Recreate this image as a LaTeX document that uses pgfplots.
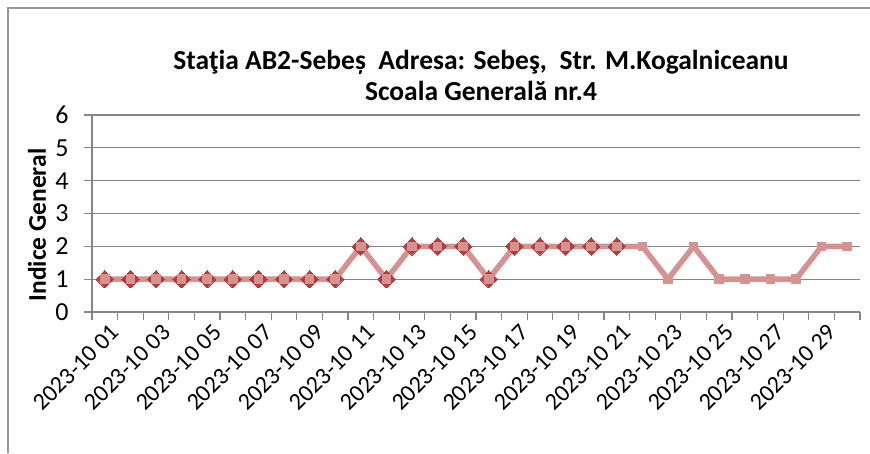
\documentclass[border=0pt]{standalone}
\usepackage{fontspec}
\setmainfont{Carlito}
\usepackage{pgfplots}
\pgfplotsset{compat=1.18}
\definecolor{gridc}{RGB}{134,134,134}
\definecolor{framec}{RGB}{150,150,150}
\definecolor{pinkl}{RGB}{214,146,144}
\definecolor{darkr}{RGB}{180,60,58}
\begin{document}
\begin{tikzpicture}[x=1pt,y=1pt]
\useasboundingbox (0,0) rectangle (870,453);
\draw[framec, line width=1.5pt] (8,0) -- (8,445) -- (870,445);
\node[font=\bfseries\fontsize{27.5}{31}\selectfont, align=center] at (481,378) {Staţia AB2-Sebeș\ \ Adresa: Sebeş,\ \ Str. M.Kogalniceanu\\Scoala Generală nr.4};
\node[rotate=90, font=\bfseries\fontsize{25.5}{30}\selectfont] at (37,228) {Indice General};
\begin{axis}[at={(92pt,141pt)}, anchor=south west, scale only axis,
  width=768pt, height=197pt,
  xmin=0.5, xmax=30.5, ymin=0, ymax=6,
  ytick={0,...,6},
  ymajorgrids, grid style={gridc, line width=1.3pt},
  axis x line*=bottom, axis y line*=left,
  axis line style={gridc, line width=1.3pt},
  tick style={gridc, line width=1.3pt},
  tick align=outside, major tick length=8pt,
  xtick={0.5,1.5,...,30.5}, xticklabels={},
  extra x ticks={1,3,...,29},
  extra x tick labels={2023-10 01,2023-10 03,2023-10 05,2023-10 07,2023-10 09,2023-10 11,2023-10 13,2023-10 15,2023-10 17,2023-10 19,2023-10 21,2023-10 23,2023-10 25,2023-10 27,2023-10 29},
  extra x tick style={major tick length=0pt, xticklabel style={rotate=45, anchor=east, yshift=-19pt, xshift=-1pt, font=\fontsize{24}{28}\selectfont}},
  ticklabel style={font=\fontsize{26}{30}\selectfont},
  /pgf/number format/assume math mode=true,
  yticklabel style={xshift=-12pt},
  clip=false,
]
\addplot[darkr, line width=2pt, mark=square*, mark size=6.2pt, mark options={rotate=45, fill=darkr, draw=darkr, line width=0pt}] coordinates {
(1,1)(2,1)(3,1)(4,1)(5,1)(6,1)(7,1)(8,1)(9,1)(10,1)
(11,2)(12,1)(13,2)(14,2)(15,2)(16,1)(17,2)(18,2)(19,2)(20,2)(21,2)};
\addplot[pinkl, line width=5.5pt, mark=square*, mark size=4.3pt, mark options={fill=pinkl, draw=pinkl, line width=0pt}] coordinates {
(1,1)(2,1)(3,1)(4,1)(5,1)(6,1)(7,1)(8,1)(9,1)(10,1)
(11,2)(12,1)(13,2)(14,2)(15,2)(16,1)(17,2)(18,2)(19,2)(20,2)(21,2)
(22,2)(23,1)(24,2)(25,1)(26,1)(27,1)(28,1)(29,2)(30,2)};
\end{axis}
\end{tikzpicture}
\end{document}
